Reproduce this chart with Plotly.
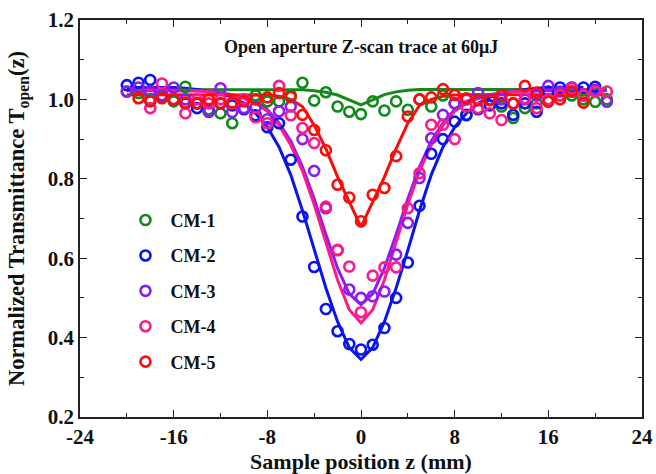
import plotly.graph_objects as go

# ---------------- data ----------------
z_full = list(range(-20, 22))          # -20 .. 21

cm1_z = list(range(-20, 22))
cm1_t = [1.02, 1.016, 1.00, 1.005, 0.995, 1.032, 0.99, 0.975, 0.965, 0.94,
         1.00, 1.01, 0.995, 0.995, 1.01, 1.042, 0.997, 1.018, 0.982, 0.969,
         0.963, 0.995, 0.972, 0.995, 0.974, 1.0, 0.982, 1.01, 0.99, 0.96,
         1.0, 1.0, 0.982, 0.953, 0.978, 0.99, 1.0, 1.01, 1.01, 1.0, 0.994, 1.0]
cm1_fit = [1.025, 1.025, 1.025, 1.025, 1.025, 1.025, 1.025, 1.025, 1.025, 1.025,
           1.025, 1.025, 1.025, 1.025, 1.025, 1.024, 1.022, 1.018, 1.011, 0.998,
           0.986, 0.999, 1.012, 1.019, 1.023, 1.025, 1.025, 1.025, 1.025, 1.025,
           1.025, 1.025, 1.025, 1.025, 1.025, 1.025, 1.025, 1.025, 1.025, 1.025,
           1.025, 1.025]

cm2_z = list(range(-20, 21))
cm2_t = [1.036, 1.042, 1.049, 1.01, 1.0, 0.99, 0.978, 0.969, 0.99, 0.985,
         0.975, 0.96, 0.93, 0.94, 0.848, 0.705, 0.578, 0.472, 0.416, 0.384,
         0.370, 0.382, 0.424, 0.50, 0.589, 0.732, 0.863, 0.90, 0.944, 0.961,
         0.975, 0.985, 0.99, 0.961, 0.99, 0.969, 1.02, 1.03, 1.03, 1.03, 1.032]
cm2_fit_z = list(range(-20, 20))
cm2_fit = [1.03, 1.03, 1.03, 1.03, 1.03, 1.028, 1.025, 1.02, 1.015, 1.005,
           0.99, 0.965, 0.93, 0.88, 0.81, 0.72, 0.62, 0.525, 0.44, 0.375,
           0.345, 0.375, 0.44, 0.525, 0.62, 0.72, 0.81, 0.88, 0.93, 0.965,
           0.99, 1.005, 1.015, 1.02, 1.025, 1.028, 1.03, 1.03, 1.03, 1.03]

cm3_z = list(range(-20, 22))
cm3_t = [1.02, 1.03, 1.02, 1.01, 1.03, 1.0, 0.99, 0.97, 1.028, 0.968,
         0.978, 0.98, 0.95, 0.97, 0.982, 0.90, 0.82, 0.726, 0.62, 0.521,
         0.50, 0.504, 0.516, 0.609, 0.689, 0.802, 0.902, 0.961, 0.99, 1.0,
         1.016, 1.0, 1.0, 0.99, 1.0, 1.01, 1.034, 1.02, 1.02, 1.01, 1.024, 0.994]
cm3_fit = [1.022, 1.022, 1.022, 1.022, 1.022, 1.022, 1.021, 1.02, 1.017, 1.012,
           1.005, 0.995, 0.975, 0.94, 0.895, 0.83, 0.75, 0.66, 0.575, 0.51,
           0.483, 0.51, 0.575, 0.66, 0.75, 0.83, 0.895, 0.94, 0.975, 0.995,
           1.005, 1.012, 1.017, 1.02, 1.021, 1.022, 1.022, 1.022, 1.022, 1.022,
           1.022, 1.022]

cm4_z = list(range(-18, 22))
cm4_t = [0.978, 1.04, 1.0, 0.965, 1.0, 0.99, 1.0, 0.99, 1.0, 0.955,
         0.94, 1.034, 0.96, 0.928, 0.89, 0.73, 0.621, 0.579, 0.464, 0.556,
         0.577, 0.577, 0.726, 0.814, 0.936, 0.936, 0.90, 0.982, 0.978, 0.965,
         0.948, 0.99, 1.003, 0.978, 1.0, 1.01, 1.028, 1.01, 1.02, 1.02]
cm4_fit_z = list(range(-19, 21))
cm4_fit = [1.024, 1.024, 1.024, 1.024, 1.023, 1.022, 1.02, 1.015, 1.01, 1.002,
           0.99, 0.97, 0.935, 0.885, 0.82, 0.735, 0.64, 0.545, 0.47, 0.437,
           0.47, 0.545, 0.64, 0.735, 0.82, 0.885, 0.935, 0.97, 0.99, 1.002,
           1.01, 1.015, 1.02, 1.022, 1.023, 1.024, 1.024, 1.024, 1.024, 1.024]

cm5_z = list(range(-19, 20))
cm5_t = [1.003, 0.995, 1.003, 1.0, 0.992, 0.99, 1.0, 0.99, 0.992, 0.995,
         1.0, 1.005, 1.016, 1.006, 0.961, 0.923, 0.872, 0.785, 0.753, 0.693,
         0.760, 0.777, 0.857, 0.957, 1.0, 1.005, 1.026, 1.011, 1.003, 0.998,
         0.998, 1.011, 0.99, 1.034, 1.017, 0.994, 1.0, 1.02, 0.992]
cm5_fit_z = list(range(-20, 22))
cm5_fit = [1.012, 1.012, 1.012, 1.012, 1.012, 1.012, 1.012, 1.012, 1.012, 1.012,
           1.012, 1.012, 1.011, 1.008, 1.0, 0.982, 0.935, 0.876, 0.805, 0.742,
           0.679, 0.742, 0.805, 0.876, 0.94, 0.985, 1.0, 1.008, 1.011, 1.012,
           1.012, 1.012, 1.012, 1.012, 1.012, 1.012, 1.012, 1.012, 1.012, 1.012,
           1.012, 1.012]

names = ["CM-1", "CM-2", "CM-3", "CM-4", "CM-5"]
colors = ["#13891a", "#0a14f0", "#8c1cf2", "#ff1a8c", "#ff0a0a"]

x_ticks = [-24, -16, -8, 0, 8, 16, 24]
y_ticks = [0.2, 0.4, 0.6, 0.8, 1.0, 1.2]
title_text = "Open aperture Z-scan trace at 60\u03bcJ"

# ---------------- figure ----------------
FONT = "Liberation Serif"
fig = go.Figure()

series = [
    (cm1_z, cm1_t, z_full, cm1_fit),
    (cm2_z, cm2_t, cm2_fit_z, cm2_fit),
    (cm3_z, cm3_t, z_full, cm3_fit),
    (cm4_z, cm4_t, cm4_fit_z, cm4_fit),
    (cm5_z, cm5_t, cm5_fit_z, cm5_fit),
]

# fit lines first (under markers)
for i, (dz, dt, fz, ft) in enumerate(series):
    fig.add_trace(go.Scatter(x=fz, y=ft, mode="lines",
                             line=dict(color=colors[i], width=3),
                             showlegend=False, hoverinfo="skip"))
for i, (dz, dt, fz, ft) in enumerate(series):
    fig.add_trace(go.Scatter(x=dz, y=dt, mode="markers", name=names[i],
                             legendgroup=names[i],
                             marker=dict(symbol="circle-open", size=10,
                                         color=colors[i],
                                         line=dict(width=2.6, color=colors[i]))))

fig.add_annotation(x=0.5, y=0.962, xref="paper", yref="paper",
                   text=title_text, showarrow=False,
                   font=dict(family=FONT, size=18, color="#111", weight="bold"))

axis_common = dict(showline=True, linecolor="#222", linewidth=1.6,
                   mirror="allticks", ticks="inside", ticklen=7, tickwidth=1.4,
                   tickcolor="#222", showgrid=False, zeroline=False,
                   tickfont=dict(family=FONT, size=21, color="#111", weight="bold"))

fig.update_xaxes(range=[-24, 24], tickvals=x_ticks,
                 ticktext=[str(v) for v in x_ticks],
                 minor=dict(dtick=4, tick0=0, ticks="inside", ticklen=4,
                            tickwidth=1.2, tickcolor="#222"),
                 title=dict(text="Sample position z (mm)", standoff=10,
                            font=dict(family=FONT, size=22, color="#111",
                                      weight="bold")),
                 automargin=False,
                 **axis_common)
fig.update_yaxes(range=[0.2, 1.2], tickvals=y_ticks,
                 ticktext=[f"{v:.1f}" for v in y_ticks],
                 minor=dict(dtick=0.1, tick0=0.2, ticks="inside", ticklen=4,
                            tickwidth=1.2, tickcolor="#222"),
                 title=dict(text="Normalized Transmittance T<sub>open</sub>(z)",
                            standoff=17,
                            font=dict(family=FONT, size=22.5, color="#111",
                                      weight="bold")),
                 automargin=False,
                 **axis_common)

fig.update_layout(
    width=656, height=474,
    margin=dict(l=80, r=14, t=20, b=57),
    paper_bgcolor="white", plot_bgcolor="white",
    legend=dict(x=0.072, y=0.542, xanchor="left", yanchor="top",
                bgcolor="rgba(0,0,0,0)", traceorder="grouped",
                tracegroupgap=9, itemwidth=40,
                font=dict(family=FONT, size=18, color="#111", weight="bold")),
)

fig.write_html("out.html")
